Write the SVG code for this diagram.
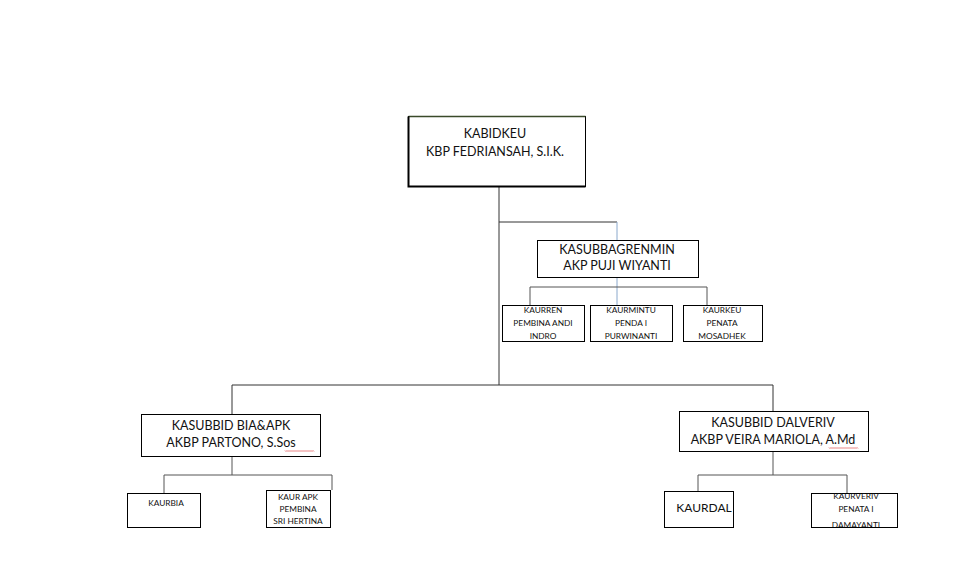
<svg xmlns="http://www.w3.org/2000/svg" width="966" height="577" viewBox="0 0 966 577">
<defs>
<clipPath id="kvclip"><rect x="811" y="488" width="87" height="39"/></clipPath>
</defs>
<style>
.box{fill:#fff;stroke:#000;stroke-width:1}
.t{font-family:Lato,"Liberation Sans",sans-serif;fill:#111;text-anchor:middle}
.l{font-size:12.5px}
.m{font-size:12px}
.s{font-size:8.3px}
.c{fill:none;stroke:#333;stroke-width:1}
.g{fill:none;stroke:#555;stroke-width:1}
.b{fill:none;stroke:#8aa8cc;stroke-width:1}
.sq{fill:none;stroke:#d44;stroke-width:0.7}
</style>
<rect width="966" height="577" fill="#fff"/>
<g id="connectors">
<path class="c" d="M499 186V385M499 222H617"/>
<path class="b" d="M617 222V240M617 277V305"/>
<path class="g" d="M530 305V287H707V305"/>
<path class="c" d="M232 414V385H773V411"/>
<path class="g" d="M232 456V475M164 493V475H332V490"/>
<path class="g" d="M773 451V475M698 491V475H847V493"/>
</g>
<g id="kabidkeu">
<rect class="box" x="408.5" y="116.5" width="177" height="70"/>
<path d="M408.5 116.5H585.5" stroke="#3a4a2a" stroke-width="1.5"/>
<path d="M408.5 116.5V186.5H585.5" fill="none" stroke="#000" stroke-width="2"/>
<text class="t l" x="495" y="138">KABIDKEU</text>
<text class="t l" x="495" y="156">KBP FEDRIANSAH, S.I.K.</text>
</g>
<g id="kasubbagrenmin">
<rect class="box" x="537.5" y="240.5" width="161" height="37"/>
<text class="t l" x="617" y="254">KASUBBAGRENMIN</text>
<text class="t l" x="617" y="270">AKP PUJI WIYANTI</text>
</g>
<g id="kaurren">
<rect class="box" x="502.5" y="305.5" width="82" height="36"/>
<text class="t s" x="543" y="313">KAURREN</text>
<text class="t s" x="543" y="326">PEMBINA ANDI</text>
<text class="t s" x="543" y="339">INDRO</text>
</g>
<g id="kaurmintu">
<rect class="box" x="590.5" y="305.5" width="82" height="36"/>
<text class="t s" x="631" y="313">KAURMINTU</text>
<text class="t s" x="631" y="326">PENDA I</text>
<text class="t s" x="631" y="339">PURWINANTI</text>
</g>
<g id="kaurkeu">
<rect class="box" x="683.5" y="305.5" width="79" height="36"/>
<text class="t s" x="722" y="313">KAURKEU</text>
<text class="t s" x="722" y="326">PENATA</text>
<text class="t s" x="722" y="339">MOSADHEK</text>
</g>
<g id="kasubbid-bia">
<rect class="box" x="141.5" y="414.5" width="179" height="42"/>
<text class="t l" x="231" y="430">KASUBBID BIA&amp;APK</text>
<text class="t l" x="231" y="447">AKBP PARTONO, S.Sos</text>
<path class="sq" d="M285 450.5l1 1l1 -1l1 1l1 -1l1 1l1 -1l1 1l1 -1l1 1l1 -1l1 1l1 -1l1 1l1 -1l1 1l1 -1l1 1l1 -1l1 1l1 -1l1 1l1 -1l1 1l1 -1l1 1l1 -1l1 1l1 -1l1 1"/>
</g>
<g id="kaurbia">
<rect class="box" x="127.5" y="493.5" width="73" height="34"/>
<text class="t s" x="166" y="506">KAURBIA</text>
</g>
<g id="kaur-apk">
<rect class="box" x="266.5" y="490.5" width="64" height="37"/>
<text class="t s" x="298" y="500">KAUR APK</text>
<text class="t s" x="298" y="512">PEMBINA</text>
<text class="t s" x="298" y="524">SRI HERTINA</text>
</g>
<g id="kasubbid-dalveriv">
<rect class="box" x="679.5" y="411.5" width="189" height="40"/>
<text class="t l" x="773" y="427">KASUBBID DALVERIV</text>
<text class="t l" x="773" y="444">AKBP VEIRA MARIOLA, A.Md</text>
<path class="sq" d="M829 447.5l1 1l1 -1l1 1l1 -1l1 1l1 -1l1 1l1 -1l1 1l1 -1l1 1l1 -1l1 1l1 -1l1 1l1 -1l1 1l1 -1l1 1l1 -1l1 1l1 -1l1 1l1 -1l1 1l1 -1l1 1l1 -1l1 1"/>
</g>
<g id="kaurdal">
<rect class="box" x="664.5" y="491.5" width="69" height="36"/>
<text class="t m" x="704" y="512">KAURDAL</text>
</g>
<g id="kaurveriv">
<rect class="box" x="811.5" y="493.5" width="86" height="34"/>
<g clip-path="url(#kvclip)">
<text class="t s" x="856" y="499">KAURVERIV</text>
<text class="t s" x="856" y="512">PENATA I</text>
<text class="t s" x="856" y="527.5">DAMAYANTI</text>
</g>
</g>
</svg>
